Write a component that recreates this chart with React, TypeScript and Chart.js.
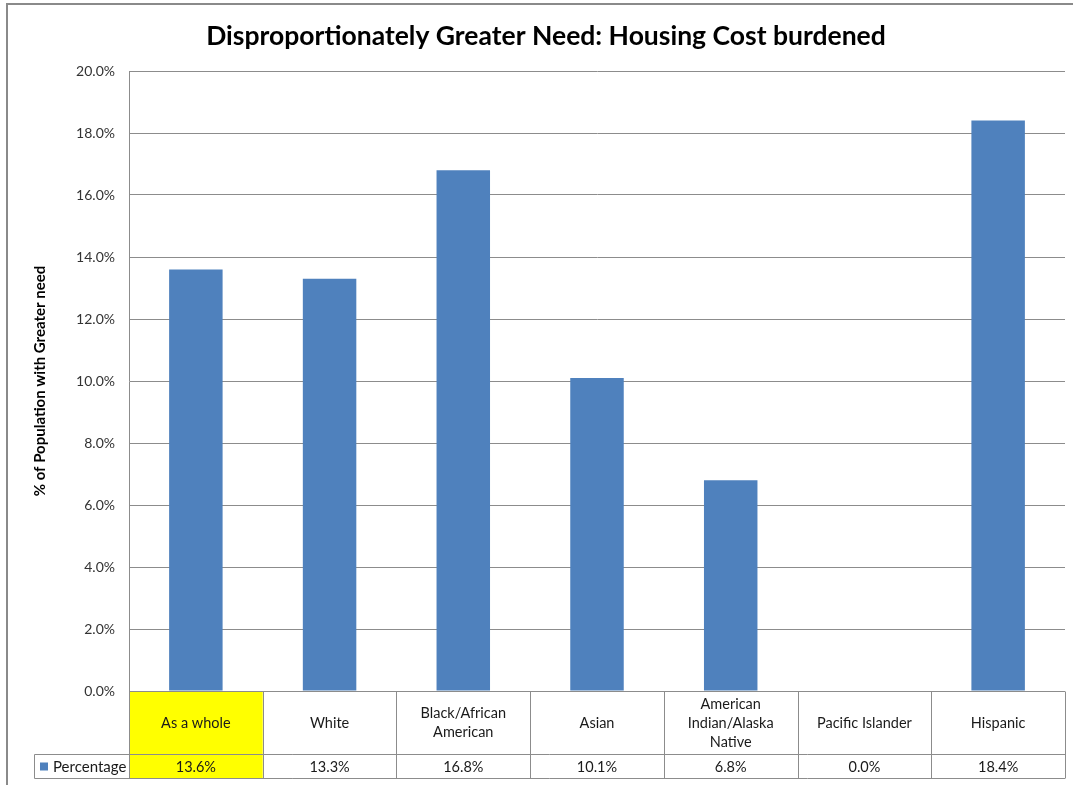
import React, { useEffect, useRef } from "react";
import { Chart, registerables } from "chart.js";

Chart.register(...registerables);

const chartTitle = "Disproportionately Greater Need: Housing Cost burdened";
const yAxisTitle = "% of Population with Greater need";
const seriesName = "Percentage";
const categories = [
  "As a whole",
  "White",
  "Black/African American",
  "Asian",
  "American Indian/Alaska Native",
  "Pacific Islander",
  "Hispanic",
];
const categoryLines = [
  ["As a whole"],
  ["White"],
  ["Black/African", "American"],
  ["Asian"],
  ["American", "Indian/Alaska", "Native"],
  ["Pacific Islander"],
  ["Hispanic"],
];
const percentages = [13.6, 13.3, 16.8, 10.1, 6.8, 0.0, 18.4];
const yMin = 0;
const yMax = 20;
const yStep = 2;
const highlightIndex = 0;

const FONT = "Lato, 'Open Sans', sans-serif";
const BAR_COLOR = "#4F81BD";
const LINE_COLOR = "#8c8c8c";

const tablePlugin = {
  id: "dataTable",
  afterDraw(chart: any) {
    const { ctx, chartArea, scales } = chart;
    const x = scales.x;
    const n = categories.length;
    const cw = chartArea.width / n;
    const top = Math.round(chartArea.bottom) + 0.5;
    const mid = top + 63;
    const bot = mid + 24;
    const legendLeft = 34.5;
    const left = chartArea.left;
    const right = chartArea.right;
    ctx.save();

    // highlight
    const hc = x.getPixelForValue(highlightIndex);
    ctx.fillStyle = "#FFFF00";
    ctx.fillRect(hc - cw / 2, top, cw, bot - top);

    ctx.strokeStyle = LINE_COLOR;
    ctx.lineWidth = 1;
    const line = (x1: number, y1: number, x2: number, y2: number) => {
      ctx.beginPath();
      ctx.moveTo(x1, y1);
      ctx.lineTo(x2, y2);
      ctx.stroke();
    };
    line(left, top, right, top);
    line(legendLeft, mid, right, mid);
    line(legendLeft, bot, right, bot);
    line(legendLeft, mid, legendLeft, bot);
    for (let i = 0; i <= n; i++) {
      const xi = Math.round(left + i * cw) + 0.5;
      line(xi, top, xi, bot);
    }

    // text
    ctx.fillStyle = "#1a1a1a";
    ctx.font = `14.5px ${FONT}`;
    ctx.textAlign = "center";
    ctx.textBaseline = "middle";
    const lh = 19;
    for (let i = 0; i < n; i++) {
      const cx = x.getPixelForValue(i);
      const lines = categoryLines[i];
      const cy = (top + mid) / 2;
      lines.forEach((t, k) => {
        ctx.fillText(t, cx, cy + (k - (lines.length - 1) / 2) * lh);
      });
      ctx.fillText(percentages[i].toFixed(1) + "%", cx, (mid + bot) / 2 + 1);
    }

    // legend cell
    ctx.fillStyle = BAR_COLOR;
    ctx.fillRect(40, (mid + bot) / 2 - 4, 8, 8);
    ctx.fillStyle = "#1a1a1a";
    ctx.textAlign = "left";
    ctx.font = `15px ${FONT}`;
    ctx.fillText(seriesName, 53, (mid + bot) / 2 + 1);

    // title
    ctx.font = `bold 26.5px ${FONT}`;
    ctx.textAlign = "center";
    ctx.fillStyle = "#000";
    ctx.fillText(chartTitle, 546, 36);

    // outer border
    ctx.strokeStyle = "#8a8a8a";
    ctx.lineWidth = 2;
    ctx.strokeRect(7, 4, 1100, 900);
    ctx.restore();
  },
};

export default function App() {
  const ref = useRef<HTMLCanvasElement | null>(null);
  useEffect(() => {
    document.body.style.margin = "0";
    const canvas = ref.current!;
    const chart = new Chart(canvas, {
      type: "bar",
      data: {
        labels: categories,
        datasets: [
          {
            label: seriesName,
            data: percentages,
            backgroundColor: BAR_COLOR,
            borderWidth: 0,
            categoryPercentage: 1,
            barPercentage: 0.4,
          },
        ],
      },
      options: {
        animation: false,
        responsive: false,
        maintainAspectRatio: false,
        layout: { padding: { left: 7, top: 71, right: 8, bottom: 94 } },
        plugins: {
          legend: { display: false },
          title: { display: false },
          tooltip: { enabled: false },
        },
        scales: {
          x: { display: false },
          y: {
            min: yMin,
            max: yMax,
            ticks: {
              stepSize: yStep,
              padding: 14,
              color: "#333",
              font: { family: FONT, size: 14 },
              callback: (v: any) => Number(v).toFixed(1) + "%",
            },
            grid: { color: LINE_COLOR, drawTicks: false, lineWidth: 1 },
            border: { display: true, color: LINE_COLOR },
            title: {
              display: true,
              text: yAxisTitle,
              color: "#000",
              font: { family: FONT, size: 15, weight: "bold" },
              padding: { top: 24, bottom: 0 },
            },
            afterFit: (s: any) => {
              s.width = 122;
            },
          } as any,
        },
      },
      plugins: [tablePlugin],
    });
    return () => chart.destroy();
  }, []);
  return (
    <div style={{ width: 1073, height: 785 }}>
      <canvas ref={ref} width={1073} height={785} style={{ display: "block" }} />
    </div>
  );
}
